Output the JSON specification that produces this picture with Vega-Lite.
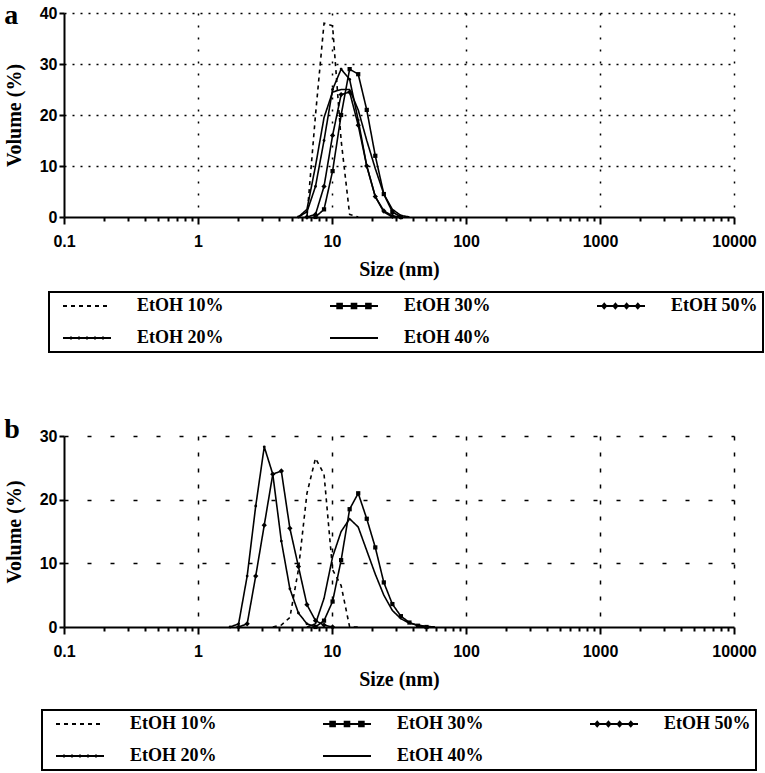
{
  "$schema": "https://vega.github.io/schema/vega-lite/v6.json",
  "padding": {"left": 4, "top": 2, "right": 0, "bottom": 0},
  "background": "white",
  "config": {
    "view": {"stroke": null},
    "font": "Liberation Serif",
    "axis": {
      "domainColor": "black", "domainWidth": 2, "tickColor": "black", "tickWidth": 2,
      "labelFont": "Liberation Sans", "labelFontSize": 16, "labelFontWeight": "bold", "labelColor": "black",
      "titleFont": "Liberation Serif", "titleFontSize": 20, "titleFontWeight": "bold", "titleColor": "black",
      "gridColor": "black", "gridWidth": 1.5, "labelOverlap": false, "labelFlush": false
    },
    "legend": {
      "direction": "horizontal", "columns": 3, "title": null,
      "strokeColor": "black", "padding": 5,
      "symbolSize": 256, "symbolStrokeWidth": 1.8, "symbolStrokeColor": "black", "symbolType": "stroke",
      "labelFont": "Liberation Serif", "labelFontSize": 18, "labelFontWeight": "bold", "labelColor": "black", "labelOffset": 65,
      "columnPadding": 97, "rowPadding": 14
    },
    "title": {"font": "Liberation Serif", "fontSize": 28, "fontWeight": "bold", "color": "black", "anchor": "start", "frame": "bounds"}
  },
  "datasets": {
    "a": [
      {"s": "EtOH 10%", "x": 6.503, "v": 0}, {"s": "EtOH 10%", "x": 7.531, "v": 20}, {"s": "EtOH 10%", "x": 8.721, "v": 38}, {"s": "EtOH 10%", "x": 10.1, "v": 37.5}, {"s": "EtOH 10%", "x": 11.7, "v": 15}, {"s": "EtOH 10%", "x": 13.54, "v": 0.5}, {"s": "EtOH 10%", "x": 15.69, "v": 0},
      {"s": "EtOH 20%", "x": 5.615, "v": 0}, {"s": "EtOH 20%", "x": 6.503, "v": 1}, {"s": "EtOH 20%", "x": 7.531, "v": 6}, {"s": "EtOH 20%", "x": 8.721, "v": 15}, {"s": "EtOH 20%", "x": 10.1, "v": 25}, {"s": "EtOH 20%", "x": 11.7, "v": 29}, {"s": "EtOH 20%", "x": 13.54, "v": 27}, {"s": "EtOH 20%", "x": 15.69, "v": 19}, {"s": "EtOH 20%", "x": 18.17, "v": 10}, {"s": "EtOH 20%", "x": 21.04, "v": 4}, {"s": "EtOH 20%", "x": 24.36, "v": 1}, {"s": "EtOH 20%", "x": 28.21, "v": 0},
      {"s": "EtOH 30%", "x": 7.531, "v": 0}, {"s": "EtOH 30%", "x": 8.721, "v": 1.5}, {"s": "EtOH 30%", "x": 10.1, "v": 9}, {"s": "EtOH 30%", "x": 11.7, "v": 20}, {"s": "EtOH 30%", "x": 13.54, "v": 29}, {"s": "EtOH 30%", "x": 15.69, "v": 28}, {"s": "EtOH 30%", "x": 18.17, "v": 21}, {"s": "EtOH 30%", "x": 21.04, "v": 12}, {"s": "EtOH 30%", "x": 24.36, "v": 4.5}, {"s": "EtOH 30%", "x": 28.21, "v": 1}, {"s": "EtOH 30%", "x": 32.67, "v": 0},
      {"s": "EtOH 40%", "x": 5.615, "v": 0}, {"s": "EtOH 40%", "x": 6.503, "v": 1.5}, {"s": "EtOH 40%", "x": 7.531, "v": 10}, {"s": "EtOH 40%", "x": 8.721, "v": 19.5}, {"s": "EtOH 40%", "x": 10.1, "v": 24.5}, {"s": "EtOH 40%", "x": 11.7, "v": 25}, {"s": "EtOH 40%", "x": 13.54, "v": 25}, {"s": "EtOH 40%", "x": 15.69, "v": 21}, {"s": "EtOH 40%", "x": 18.17, "v": 15}, {"s": "EtOH 40%", "x": 21.04, "v": 9.5}, {"s": "EtOH 40%", "x": 24.36, "v": 4.5}, {"s": "EtOH 40%", "x": 28.21, "v": 1.5}, {"s": "EtOH 40%", "x": 32.67, "v": 0.3}, {"s": "EtOH 40%", "x": 37.84, "v": 0},
      {"s": "EtOH 50%", "x": 6.503, "v": 0}, {"s": "EtOH 50%", "x": 7.531, "v": 0.5}, {"s": "EtOH 50%", "x": 8.721, "v": 6}, {"s": "EtOH 50%", "x": 10.1, "v": 16}, {"s": "EtOH 50%", "x": 11.7, "v": 24}, {"s": "EtOH 50%", "x": 13.54, "v": 24.5}, {"s": "EtOH 50%", "x": 15.69, "v": 18}, {"s": "EtOH 50%", "x": 18.17, "v": 10}, {"s": "EtOH 50%", "x": 21.04, "v": 4}, {"s": "EtOH 50%", "x": 24.36, "v": 1.2}, {"s": "EtOH 50%", "x": 28.21, "v": 0.2}, {"s": "EtOH 50%", "x": 32.67, "v": 0}
    ],
    "b": [
      {"s": "EtOH 10%", "x": 3.615, "v": 0}, {"s": "EtOH 10%", "x": 4.187, "v": 0.3}, {"s": "EtOH 10%", "x": 4.849, "v": 1.5}, {"s": "EtOH 10%", "x": 5.615, "v": 9}, {"s": "EtOH 10%", "x": 6.503, "v": 21}, {"s": "EtOH 10%", "x": 7.531, "v": 26.5}, {"s": "EtOH 10%", "x": 8.721, "v": 24}, {"s": "EtOH 10%", "x": 10.1, "v": 9}, {"s": "EtOH 10%", "x": 11.7, "v": 6.5}, {"s": "EtOH 10%", "x": 13.54, "v": 0}, {"s": "EtOH 10%", "x": 15.69, "v": 0},
      {"s": "EtOH 20%", "x": 1.736, "v": 0}, {"s": "EtOH 20%", "x": 2.01, "v": 0.5}, {"s": "EtOH 20%", "x": 2.328, "v": 8}, {"s": "EtOH 20%", "x": 2.696, "v": 19}, {"s": "EtOH 20%", "x": 3.122, "v": 28.3}, {"s": "EtOH 20%", "x": 3.615, "v": 24}, {"s": "EtOH 20%", "x": 4.187, "v": 13.5}, {"s": "EtOH 20%", "x": 4.849, "v": 6}, {"s": "EtOH 20%", "x": 5.615, "v": 2.2}, {"s": "EtOH 20%", "x": 6.503, "v": 0.5}, {"s": "EtOH 20%", "x": 7.531, "v": 0},
      {"s": "EtOH 30%", "x": 7.531, "v": 0}, {"s": "EtOH 30%", "x": 8.721, "v": 1}, {"s": "EtOH 30%", "x": 10.1, "v": 4}, {"s": "EtOH 30%", "x": 11.7, "v": 10.5}, {"s": "EtOH 30%", "x": 13.54, "v": 18.5}, {"s": "EtOH 30%", "x": 15.69, "v": 21}, {"s": "EtOH 30%", "x": 18.17, "v": 17}, {"s": "EtOH 30%", "x": 21.04, "v": 12.5}, {"s": "EtOH 30%", "x": 24.36, "v": 7}, {"s": "EtOH 30%", "x": 28.21, "v": 3.6}, {"s": "EtOH 30%", "x": 32.67, "v": 1.7}, {"s": "EtOH 30%", "x": 37.84, "v": 0.7}, {"s": "EtOH 30%", "x": 43.82, "v": 0.2}, {"s": "EtOH 30%", "x": 50.75, "v": 0},
      {"s": "EtOH 40%", "x": 6.503, "v": 0}, {"s": "EtOH 40%", "x": 7.531, "v": 0.5}, {"s": "EtOH 40%", "x": 8.721, "v": 4.5}, {"s": "EtOH 40%", "x": 10.1, "v": 11}, {"s": "EtOH 40%", "x": 11.7, "v": 15}, {"s": "EtOH 40%", "x": 13.54, "v": 17}, {"s": "EtOH 40%", "x": 15.69, "v": 15.7}, {"s": "EtOH 40%", "x": 18.17, "v": 12}, {"s": "EtOH 40%", "x": 21.04, "v": 8.3}, {"s": "EtOH 40%", "x": 24.36, "v": 5}, {"s": "EtOH 40%", "x": 28.21, "v": 2.6}, {"s": "EtOH 40%", "x": 32.67, "v": 1.3}, {"s": "EtOH 40%", "x": 37.84, "v": 0.6}, {"s": "EtOH 40%", "x": 43.82, "v": 0.3}, {"s": "EtOH 40%", "x": 50.75, "v": 0.1}, {"s": "EtOH 40%", "x": 58.77, "v": 0},
      {"s": "EtOH 50%", "x": 2.01, "v": 0}, {"s": "EtOH 50%", "x": 2.328, "v": 0.5}, {"s": "EtOH 50%", "x": 2.696, "v": 8}, {"s": "EtOH 50%", "x": 3.122, "v": 16}, {"s": "EtOH 50%", "x": 3.615, "v": 24}, {"s": "EtOH 50%", "x": 4.187, "v": 24.5}, {"s": "EtOH 50%", "x": 4.849, "v": 15.5}, {"s": "EtOH 50%", "x": 5.615, "v": 9.5}, {"s": "EtOH 50%", "x": 6.503, "v": 3.5}, {"s": "EtOH 50%", "x": 7.531, "v": 1}, {"s": "EtOH 50%", "x": 8.721, "v": 0.3}, {"s": "EtOH 50%", "x": 10.1, "v": 0}
    ]
  },
  "spacing": 63,
  "resolve": {"scale": {"strokeDash": "independent", "shape": "independent", "size": "independent"}, "legend": {"strokeDash": "independent"}},
  "vconcat": [
    {
      "width": 670, "height": 204,
      "title": {"text": "a", "dy": 29, "dx": 0},
      "data": {"name": "a"},
      "layer": [
        {
          "mark": {"type": "line", "strokeWidth": 1.6, "color": "black"},
          "encoding": {
            "x": {"field": "x", "type": "quantitative", "title": "Size (nm)",
              "scale": {"type": "log", "domain": [0.1, 10000]},
              "axis": {"values": [0.1,0.2,0.3,0.4,0.5,0.6,0.7,0.8,0.9,1,2,3,4,5,6,7,8,9,10,20,30,40,50,60,70,80,90,100,200,300,400,500,600,700,800,900,1000,2000,3000,4000,5000,6000,7000,8000,9000,10000],
                "labelExpr": "indexof([0.1,1,10,100,1000,10000], datum.value) >= 0 ? format(datum.value, '~g') : ''",
                "grid": true, "gridDash": [2, 10],
                "gridOpacity": {"condition": {"test": "indexof([1,10,100,1000,10000], datum.value) >= 0", "value": 1}, "value": 0},
                "tickSize": {"condition": {"test": "indexof([0.1,1,10,100,1000,10000], datum.value) >= 0", "value": 7}, "value": 4},
                "labelPadding": 9, "titlePadding": 10}},
            "y": {"field": "v", "type": "quantitative", "title": "Volume (%)",
              "scale": {"domain": [0, 40]},
              "axis": {"values": [0,5,10,15,20,25,30,35,40],
                "labelExpr": "datum.value % 10 == 0 ? datum.label : ''",
                "grid": true, "gridDash": [2, 6],
                "gridOpacity": {"condition": {"test": "datum.value % 10 == 0 && datum.value > 0", "value": 1}, "value": 0},
                "tickSize": 5, "labelPadding": 2, "titlePadding": 15}},
            "strokeDash": {"field": "s", "type": "nominal",
              "scale": {"domain": ["EtOH 10%", "EtOH 30%", "EtOH 50%", "EtOH 20%", "EtOH 40%"], "range": [[4, 4], [1, 0], [1, 0], [1, 0], [1, 0]]},
              "legend": {"orient": "none", "legendX": -15, "legendY": 279,
                "encode": {"legend": {"update": {"strokeWidth": {"value": 2}}},
                  "symbols": {"update": {"fill": {"value": "black"}, "stroke": {"value": "black"}, "strokeWidth": {"value": 1.8},
                    "shape": {"signal": "datum.value === 'EtOH 30%' ? 'M0,0H6M0.9,-0.3h0.6v0.6h-0.6zM2.7,-0.3h0.6v0.6h-0.6zM4.5,-0.3h0.6v0.6h-0.6z' : datum.value === 'EtOH 20%' ? 'M0,0H6M1,-0.2V0.2M2,-0.2V0.2M3,-0.2V0.2M4,-0.2V0.2M5,-0.2V0.2' : datum.value === 'EtOH 50%' ? 'M0,0H6M0.9,-0.3l0.25,0.3l-0.25,0.3l-0.25,-0.3zM2.3,-0.3l0.25,0.3l-0.25,0.3l-0.25,-0.3zM3.7,-0.3l0.25,0.3l-0.25,0.3l-0.25,-0.3zM5.1,-0.3l0.25,0.3l-0.25,0.3l-0.25,-0.3z' : 'M0,0H6'"}}}}}
            }
          }
        },
        {
          "transform": [{"filter": "datum.s === 'EtOH 20%' || datum.s === 'EtOH 30%' || datum.s === 'EtOH 50%'"}],
          "mark": {"type": "point", "filled": true, "color": "black", "opacity": 1},
          "encoding": {
            "x": {"field": "x", "type": "quantitative"},
            "y": {"field": "v", "type": "quantitative"},
            "shape": {"field": "s", "type": "nominal", "scale": {"domain": ["EtOH 20%", "EtOH 30%", "EtOH 50%"], "range": ["circle", "square", "diamond"]}, "legend": null},
            "size": {"field": "s", "type": "ordinal", "scale": {"domain": ["EtOH 20%", "EtOH 30%", "EtOH 50%"], "range": [8, 28, 16]}, "legend": null}
          }
        }
      ]
    },
    {
      "width": 670, "height": 191,
      "title": {"text": "b", "dy": 20, "dx": 0},
      "data": {"name": "b"},
      "layer": [
        {
          "mark": {"type": "line", "strokeWidth": 1.6, "color": "black"},
          "encoding": {
            "x": {"field": "x", "type": "quantitative", "title": "Size (nm)",
              "scale": {"type": "log", "domain": [0.1, 10000]},
              "axis": {"values": [0.1,0.2,0.3,0.4,0.5,0.6,0.7,0.8,0.9,1,2,3,4,5,6,7,8,9,10,20,30,40,50,60,70,80,90,100,200,300,400,500,600,700,800,900,1000,2000,3000,4000,5000,6000,7000,8000,9000,10000],
                "labelExpr": "indexof([0.1,1,10,100,1000,10000], datum.value) >= 0 ? format(datum.value, '~g') : ''",
                "grid": true, "gridDash": [4, 12],
                "gridOpacity": {"condition": {"test": "indexof([1,10,100,1000,10000], datum.value) >= 0", "value": 1}, "value": 0},
                "tickSize": {"condition": {"test": "indexof([0.1,1,10,100,1000,10000], datum.value) >= 0", "value": 7}, "value": 4},
                "labelPadding": 9, "titlePadding": 10}},
            "y": {"field": "v", "type": "quantitative", "title": "Volume (%)",
              "scale": {"domain": [0, 30]},
              "axis": {"values": [0,5,10,15,20,25,30],
                "labelExpr": "datum.value % 10 == 0 ? datum.label : ''",
                "grid": true, "gridDash": [4, 19],
                "gridOpacity": {"condition": {"test": "datum.value % 10 == 0 && datum.value > 0", "value": 1}, "value": 0},
                "tickSize": 5, "labelPadding": 2, "titlePadding": 15}},
            "strokeDash": {"field": "s", "type": "nominal",
              "scale": {"domain": ["EtOH 10%", "EtOH 30%", "EtOH 50%", "EtOH 20%", "EtOH 40%"], "range": [[4, 4], [1, 0], [1, 0], [1, 0], [1, 0]]},
              "legend": {"orient": "none", "legendX": -22, "legendY": 274,
                "encode": {"legend": {"update": {"strokeWidth": {"value": 2}}},
                  "symbols": {"update": {"fill": {"value": "black"}, "stroke": {"value": "black"}, "strokeWidth": {"value": 1.8},
                    "shape": {"signal": "datum.value === 'EtOH 30%' ? 'M0,0H6M0.9,-0.3h0.6v0.6h-0.6zM2.7,-0.3h0.6v0.6h-0.6zM4.5,-0.3h0.6v0.6h-0.6z' : datum.value === 'EtOH 20%' ? 'M0,0H6M1,-0.2V0.2M2,-0.2V0.2M3,-0.2V0.2M4,-0.2V0.2M5,-0.2V0.2' : datum.value === 'EtOH 50%' ? 'M0,0H6M0.9,-0.3l0.25,0.3l-0.25,0.3l-0.25,-0.3zM2.3,-0.3l0.25,0.3l-0.25,0.3l-0.25,-0.3zM3.7,-0.3l0.25,0.3l-0.25,0.3l-0.25,-0.3zM5.1,-0.3l0.25,0.3l-0.25,0.3l-0.25,-0.3z' : 'M0,0H6'"}}}}}
            }
          }
        },
        {
          "transform": [{"filter": "datum.s === 'EtOH 20%' || datum.s === 'EtOH 30%' || datum.s === 'EtOH 50%'"}],
          "mark": {"type": "point", "filled": true, "color": "black", "opacity": 1},
          "encoding": {
            "x": {"field": "x", "type": "quantitative"},
            "y": {"field": "v", "type": "quantitative"},
            "shape": {"field": "s", "type": "nominal", "scale": {"domain": ["EtOH 20%", "EtOH 30%", "EtOH 50%"], "range": ["circle", "square", "diamond"]}, "legend": null},
            "size": {"field": "s", "type": "ordinal", "scale": {"domain": ["EtOH 20%", "EtOH 30%", "EtOH 50%"], "range": [8, 28, 16]}, "legend": null}
          }
        }
      ]
    }
  ]
}
